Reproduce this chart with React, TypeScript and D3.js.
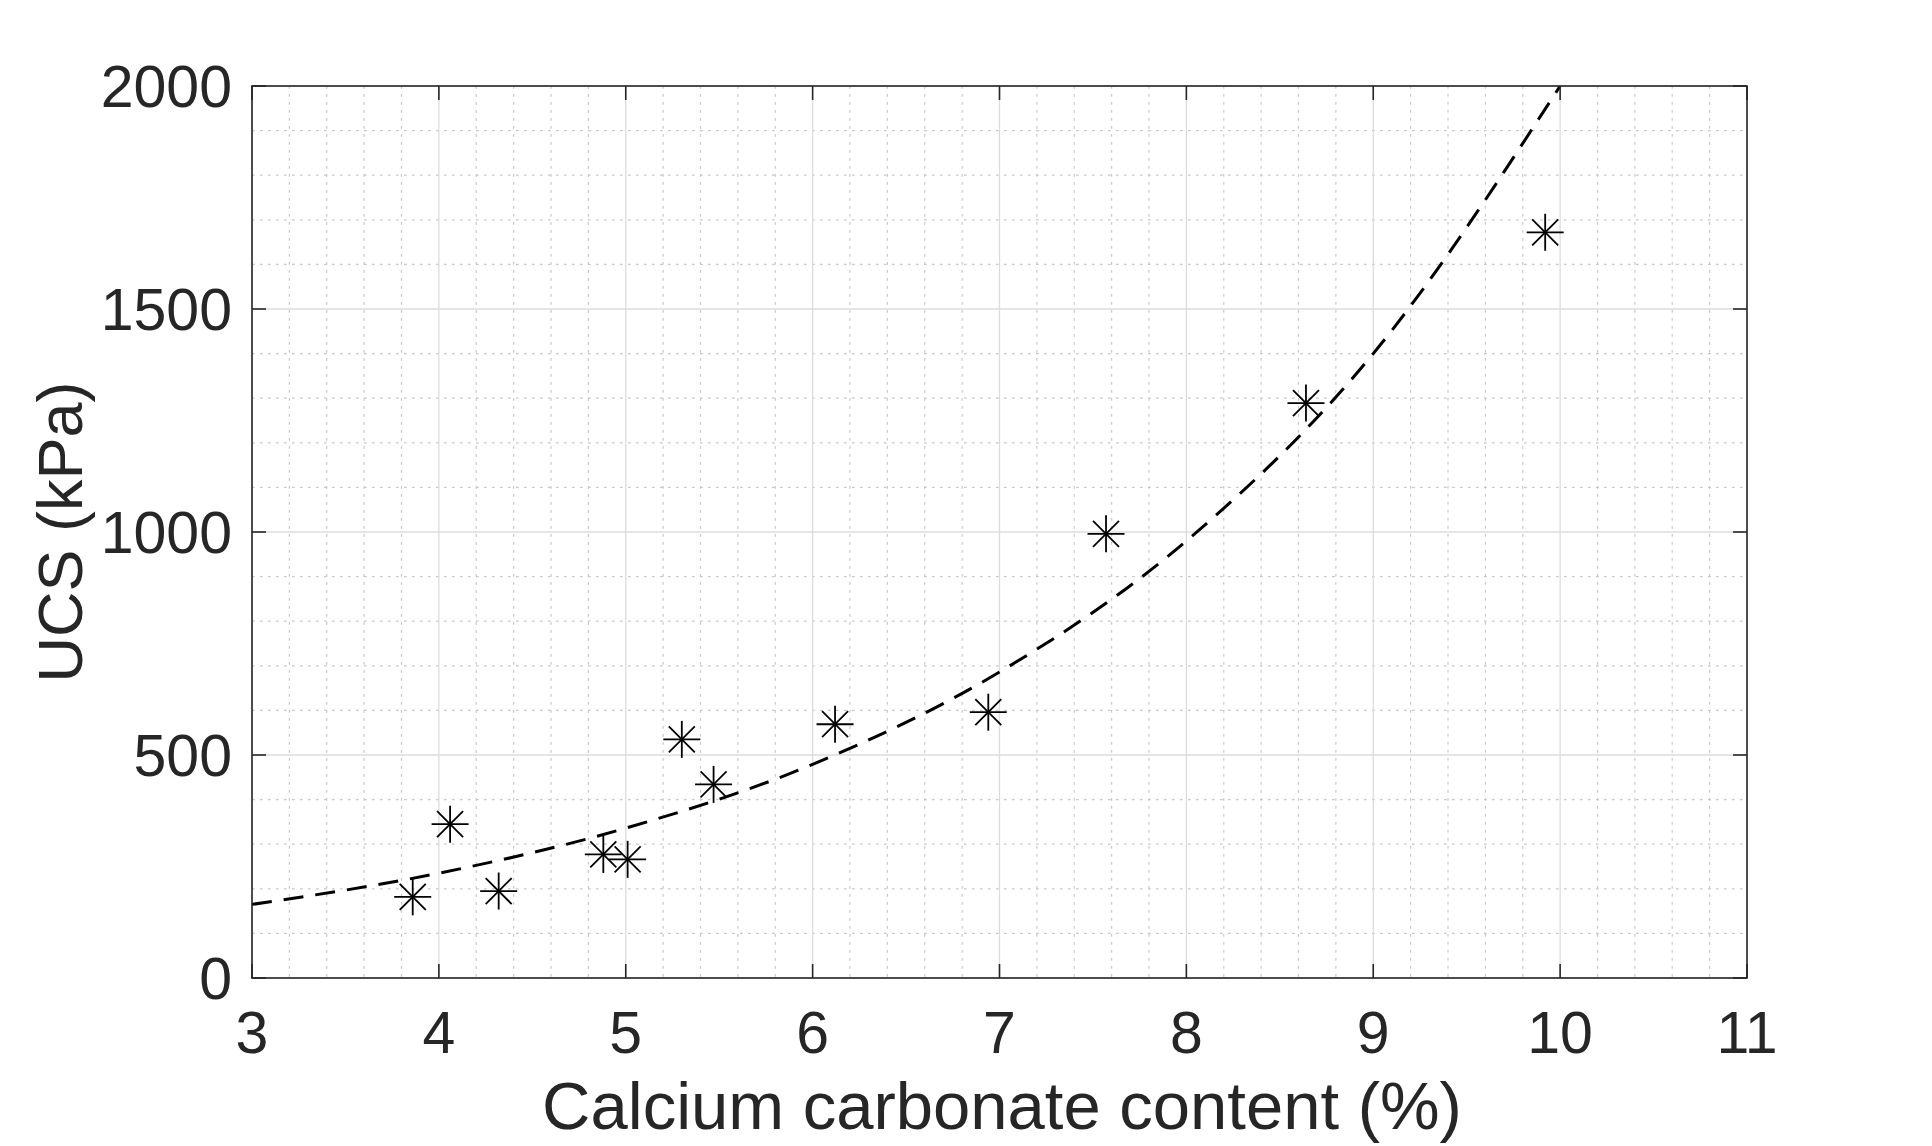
import * as d3 from 'd3';

// measured points
const carbonate = [3.86, 4.06, 4.32, 4.88, 5.01, 5.3, 5.47, 6.12, 6.94, 7.57, 8.64, 9.92];
const ucs = [182, 345, 195, 277, 266, 535, 434, 569, 596, 996, 1289, 1672];

// fitted curve
const fitX = [3, 4, 5, 6, 7, 8, 9, 10];
const fitY = [165, 235, 336, 479, 686, 980, 1400, 2000];

const xTicks = [3, 4, 5, 6, 7, 8, 9, 10, 11];
const yTicks = [0, 500, 1000, 1500, 2000];

const W = 1932;
const H = 1146;
const left = 252, right = 1747, top = 86, bottom = 978;
const ink = '#262626';
const font = 'Helvetica, Arial, "Liberation Sans", sans-serif';

const App = () => {
  const x = d3.scaleLinear().domain([3, 11]).range([left, right]);
  const y = d3.scaleLinear().domain([0, 2000]).range([bottom, top]);

  const xMinor = d3.range(3, 11.001, 0.2).filter((v) => Math.abs(v - Math.round(v)) > 0.01);
  const yMinor = d3.range(0, 2001, 100).filter((v) => v % 500 !== 0);

  const fitLine = d3
    .line<number>()
    .x((_, i) => x(fitX[i]))
    .y((d) => y(d))
    .curve(d3.curveMonotoneX)(fitY);

  const tick = 14;
  const armH = 18.5;
  const armD = 13;

  return (
    <svg width={W} height={H} style={{ position: 'absolute', left: 0, top: 0, background: '#fff' }}>
      <rect x={0} y={0} width={W} height={H} fill="#fff" />
      <defs>
        <clipPath id="plot">
          <rect x={left} y={top} width={right - left} height={bottom - top} />
        </clipPath>
      </defs>

      {/* minor grid */}
      <g stroke="#c8c8c8" strokeWidth={1.2} strokeDasharray="2.7,5.3">
        {xMinor.map((v) => (
          <line key={'xm' + v} x1={x(v)} x2={x(v)} y1={top} y2={bottom} />
        ))}
        {yMinor.map((v) => (
          <line key={'ym' + v} x1={left} x2={right} y1={y(v)} y2={y(v)} />
        ))}
      </g>

      {/* major grid */}
      <g stroke="#dcdcdc" strokeWidth={1.3}>
        {xTicks.map((v) => (
          <line key={'xg' + v} x1={x(v)} x2={x(v)} y1={top} y2={bottom} />
        ))}
        {yTicks.map((v) => (
          <line key={'yg' + v} x1={left} x2={right} y1={y(v)} y2={y(v)} />
        ))}
      </g>

      {/* fit */}
      <path
        d={fitLine || ''}
        fill="none"
        stroke="#000"
        strokeWidth={3}
        strokeDasharray="20,12"
        clipPath="url(#plot)"
      />

      {/* data markers */}
      <g stroke="#000" strokeWidth={1.8}>
        {carbonate.map((c, i) => {
          const cx = x(c);
          const cy = y(ucs[i]);
          return (
            <g key={'p' + i}>
              <line x1={cx - armH} x2={cx + armH} y1={cy} y2={cy} />
              <line x1={cx} x2={cx} y1={cy - armH} y2={cy + armH} />
              <line x1={cx - armD} x2={cx + armD} y1={cy - armD} y2={cy + armD} />
              <line x1={cx - armD} x2={cx + armD} y1={cy + armD} y2={cy - armD} />
            </g>
          );
        })}
      </g>

      {/* box and ticks */}
      <g stroke={ink} strokeWidth={1.6} fill="none">
        <rect x={left} y={top} width={right - left} height={bottom - top} />
        {xTicks.map((v) => (
          <g key={'xt' + v}>
            <line x1={x(v)} x2={x(v)} y1={bottom} y2={bottom - tick} />
            <line x1={x(v)} x2={x(v)} y1={top} y2={top + tick} />
          </g>
        ))}
        {yTicks.map((v) => (
          <g key={'yt' + v}>
            <line x1={left} x2={left + tick} y1={y(v)} y2={y(v)} />
            <line x1={right} x2={right - tick} y1={y(v)} y2={y(v)} />
          </g>
        ))}
      </g>

      {/* tick labels */}
      <g fill={ink} fontFamily={font} fontSize={59}>
        {xTicks.map((v) => (
          <text key={'xl' + v} x={x(v)} y={1053} textAnchor="middle">
            {v}
          </text>
        ))}
        {yTicks.map((v) => (
          <text key={'yl' + v} x={232} y={y(v) + 21} textAnchor="end">
            {v}
          </text>
        ))}
      </g>

      {/* axis labels */}
      <text x={1002} y={1129} textAnchor="middle" fill={ink} fontFamily={font} fontSize={67}>
        Calcium carbonate content (%)
      </text>
      <text
        transform={`translate(82,${(top + bottom) / 2}) rotate(-90)`}
        textAnchor="middle"
        fill={ink}
        fontFamily={font}
        fontSize={63}
      >
        UCS (kPa)
      </text>
    </svg>
  );
};

export default App;
